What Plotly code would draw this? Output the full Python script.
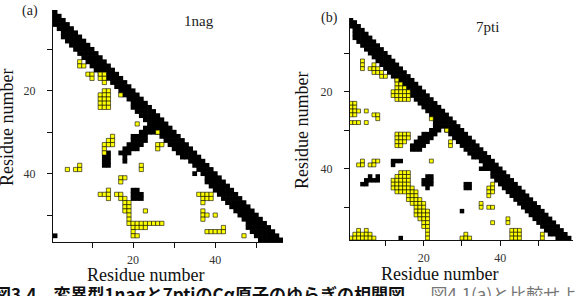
import plotly.graph_objects as go

W, H = 576, 296

# ---------------- data: panel (a) 1nag ----------------
n_a = 56
# diagonal band: for residue i, contacts from i to i+width
band_a_width = [3, 3, 4, 4, 4, 4, 4, 4, 4, 4,
                4, 4, 4, 3, 3, 3, 3, 3, 3, 4,
                4, 4, 4, 4, 4, 4, 4, 4, 4, 4,
                4, 4, 3, 3, 3, 3, 3, 4, 4, 4,
                4, 4, 4, 4, 4, 4, 4, 5, 5, 5,
                5, 5, 5, 5, 5, 5]
# extra black contacts as column runs (x, y_from, y_to)
black_a_runs = [(17, 35, 35), (18, 34, 37), (19, 33, 35), (20, 31, 34), (21, 31, 34),
                (22, 30, 33), (23, 29, 32), (24, 29, 30), (25, 30, 30),
                (13, 36, 38), (14, 35, 38),
                (20, 44, 46), (21, 44, 46), (22, 45, 46),
                (1, 55, 55), (35, 40, 40)]
yellow_a = [(7, 13), (7, 14), (8, 14),
            (9, 16), (10, 16), (10, 17),
            (12, 16), (13, 16), (12, 17), (13, 17), (13, 18),
            (13, 20), (14, 20), (12, 21), (13, 21), (14, 21), (12, 22), (13, 22), (14, 22),
            (12, 23), (13, 23), (14, 23), (12, 24), (13, 24), (14, 24),
            (17, 21), (21, 28), (26, 30), (26, 33), (27, 33), (26, 34),
            (15, 31), (14, 32), (15, 32), (13, 33), (14, 33), (15, 33), (13, 34), (13, 35),
            (4, 39), (7, 38), (6, 39), (7, 39),
            (22, 38), (22, 39),
            (17, 41), (18, 41), (17, 42),
            (14, 44), (12, 45), (13, 45), (14, 45), (14, 46),
            (16, 45), (17, 45), (17, 46), (18, 46), (18, 47), (19, 47), (18, 48), (19, 48),
            (18, 49), (19, 49), (19, 50), (19, 51),
            (19, 52), (20, 52), (21, 52), (22, 52), (23, 52), (24, 52), (25, 52), (26, 52), (27, 52),
            (20, 53), (21, 53), (22, 53), (23, 53), (20, 54), (20, 55), (21, 55),
            (23, 49),
            (36, 45), (37, 45), (38, 45), (39, 45), (37, 46), (38, 46), (39, 46), (37, 47),
            (37, 49), (37, 50), (38, 50), (37, 51), (40, 50),
            (38, 54), (39, 54), (40, 54), (41, 54), (42, 54), (42, 53),
            (47, 55)]

# ---------------- data: panel (b) 7pti ----------------
n_b = 58
band_b_width = [2] + [4] * 32 + [3] * 4 + [4] * 16 + [3] * 5
black_b_runs = [(17, 34, 35), (18, 33, 35), (19, 32, 35), (20, 31, 34), (21, 31, 33),
                (22, 30, 32), (23, 28, 31), (24, 29, 30),
                (12, 38, 39), (13, 38, 38), (14, 38, 38),
                (6, 42, 43), (8, 42, 43), (5, 43, 44), (7, 43, 43), (4, 44, 44),
                (21, 42, 45), (22, 42, 44), (20, 43, 44),
                (31, 44, 45), (32, 44, 45),
                (30, 51, 51), (14, 58, 58),
                (35, 40, 40), (36, 40, 40), (37, 40, 40)]
yellow_b = [(4, 12), (4, 13), (4, 14),
            (7, 13), (6, 14), (7, 14), (8, 14), (7, 15), (8, 15), (9, 15), (9, 16), (10, 16),
            (13, 17), (13, 18), (14, 18), (13, 19), (14, 19), (15, 19),
            (12, 20), (13, 20), (14, 20), (15, 20), (16, 20),
            (12, 21), (13, 21), (14, 21), (15, 21), (16, 21),
            (13, 22), (14, 22), (15, 22), (16, 22),
            (1, 23), (2, 23), (1, 24), (2, 24), (1, 25), (2, 25), (3, 25), (1, 26), (2, 26),
            (5, 25), (7, 26), (8, 26), (8, 27), (1, 28), (2, 28), (3, 28), (5, 28),
            (22, 27), (26, 30), (27, 33), (27, 34),
            (13, 31), (14, 31), (15, 31), (16, 31), (13, 32), (14, 32), (15, 32), (16, 32),
            (13, 33), (14, 33), (15, 33), (13, 34), (14, 34),
            (4, 38), (3, 39), (4, 39), (7, 38), (8, 38), (6, 39), (7, 39),
            (22, 38),
            (14, 41), (15, 41), (16, 41),
            (13, 42), (14, 42), (15, 42), (16, 42),
            (12, 43), (13, 43), (14, 43), (15, 43), (16, 43),
            (12, 44), (13, 44), (14, 44), (15, 44), (16, 44),
            (12, 45), (13, 45), (14, 45), (15, 45), (16, 45), (17, 45),
            (13, 46), (14, 46), (15, 46), (16, 46), (17, 46), (18, 46),
            (16, 47), (17, 47), (18, 47),
            (16, 48), (17, 48), (18, 48), (19, 48),
            (17, 49), (18, 49), (19, 49), (20, 49),
            (18, 50), (19, 50), (20, 50),
            (18, 51), (19, 51), (20, 51), (21, 51),
            (18, 52), (19, 52), (20, 52), (21, 52),
            (19, 53), (20, 53), (21, 53),
            (20, 54), (21, 54), (20, 55), (21, 55), (21, 56), (21, 57), (21, 58),
            (3, 56), (5, 56), (2, 57), (3, 57), (4, 57), (5, 57), (6, 57),
            (1, 58), (2, 58), (3, 58), (4, 58), (5, 58), (6, 58), (7, 58),
            (38, 44), (37, 45), (38, 45), (37, 46), (38, 46), (37, 47),
            (35, 49), (35, 50), (37, 50), (38, 50), (38, 54), (42, 53), (42, 54),
            (43, 56), (44, 56), (45, 56), (43, 57), (44, 57), (45, 57), (43, 58), (44, 58), (45, 58),
            (51, 57), (51, 58),
            (31, 57), (30, 58), (31, 58), (32, 58)]

tick_vals = [10, 20, 30, 40, 50]
tick_text = ["", "20", "", "40", ""]
titles = ["1nag", "7pti"]
panel_tags = ["(a)", "(b)"]
axis_label = "Residue number"
caption_bold = "図3.4　変異型1nagと7ptiのCα原子のゆらぎの相関図．"
caption_light = "　図4.1(a)と比較せよ．"


def black_cells(n, widths, runs):
    xs, ys = [], []
    for i in range(1, n + 1):
        for j in range(i, min(n, i + widths[i - 1]) + 1):
            xs.append(i)
            ys.append(j)
    for x, y0, y1 in runs:
        for j in range(y0, y1 + 1):
            xs.append(x)
            ys.append(j)
    return xs, ys


def P(px):
    return px / W


def Q(py):
    return 1 - py / H


fig = go.Figure()

panels = [
    dict(n=n_a, widths=band_a_width, runs=black_a_runs, yellow=yellow_a,
         xd=(53, 283), yd=(10, 242), xr=[0.5, 56.5], yr=[56.5, 0.5], bs=4.8, ys=4.2,
         xa="x", ya="y"),
    dict(n=n_b, widths=band_b_width, runs=black_b_runs, yellow=yellow_b,
         xd=(350, 573), yd=(18, 240), xr=[0.75, 59.0], yr=[58.5, 0.85], bs=4.5, ys=3.9,
         xa="x2", ya="y2"),
]

serif = "Liberation Serif, Times New Roman, serif"
for k, p in enumerate(panels):
    bx, by = black_cells(p["n"], p["widths"], p["runs"])
    fig.add_trace(go.Scatter(x=bx, y=by, mode="markers", xaxis=p["xa"], yaxis=p["ya"],
                             marker=dict(symbol="square", size=p["bs"], color="black",
                                         line=dict(width=0)),
                             hoverinfo="skip", showlegend=False))
    yx = [c[0] for c in p["yellow"]]
    yy = [c[1] for c in p["yellow"]]
    fig.add_trace(go.Scatter(x=yx, y=yy, mode="markers", xaxis=p["xa"], yaxis=p["ya"],
                             marker=dict(symbol="square", size=p["ys"], color="#ffff00",
                                         line=dict(width=0.6, color="black")),
                             hoverinfo="skip", showlegend=False))
    axcommon = dict(showline=True, linecolor="#111", linewidth=1, ticks="outside",
                    ticklen=5, tickwidth=1, tickcolor="#111", showgrid=False, zeroline=False,
                    tickvals=tick_vals, ticktext=tick_text,
                    tickfont=dict(family=serif, size=12, color="#333"))
    sx = "xaxis" if k == 0 else "xaxis2"
    sy = "yaxis" if k == 0 else "yaxis2"
    fig.layout[sx] = dict(domain=[P(p["xd"][0]), P(p["xd"][1])], range=p["xr"],
                          anchor=p["ya"], ticklabelstandoff=2, **axcommon)
    fig.layout[sy] = dict(domain=[Q(p["yd"][1]), Q(p["yd"][0])], range=p["yr"],
                          anchor=p["xa"], ticklabelstandoff=9, **axcommon)

ann = []
# panel tags and titles
ann.append(dict(x=P(30), y=Q(11), text=panel_tags[0], font=dict(family=serif, size=14, color="#222")))
ann.append(dict(x=P(329), y=Q(18), text=panel_tags[1], font=dict(family=serif, size=14, color="#222")))
ann.append(dict(x=P(199), y=Q(21), text=titles[0], font=dict(family=serif, size=15, color="#222")))
ann.append(dict(x=P(487), y=Q(27), text=titles[1], font=dict(family=serif, size=15, color="#222")))
# axis labels
ann.append(dict(x=P(145), y=Q(274.5), text=axis_label, font=dict(family=serif, size=18, color="#111")))
ann.append(dict(x=P(439), y=Q(273.5), text=axis_label, font=dict(family=serif, size=18, color="#111")))
ann.append(dict(x=P(7), y=Q(128), text=axis_label, textangle=-90, font=dict(family=serif, size=18, color="#111")))
ann.append(dict(x=P(302), y=Q(131), text=axis_label, textangle=-90, font=dict(family=serif, size=18, color="#111")))
for a in ann:
    a.update(xref="paper", yref="paper", showarrow=False, xanchor="center", yanchor="middle")

ann.append(dict(x=P(-8), y=Q(279), xref="paper", yref="paper", showarrow=False,
                xanchor="left", yanchor="top",
                text="<b>" + caption_bold + "</b><span style='color:#777'>" + caption_light + "</span>",
                font=dict(family="Noto Sans CJK JP", size=17, color="#111")))

fig.update_layout(width=W, height=H, margin=dict(l=0, r=0, t=0, b=0),
                  paper_bgcolor="white", plot_bgcolor="white", annotations=ann)

fig.write_html("out.html")
